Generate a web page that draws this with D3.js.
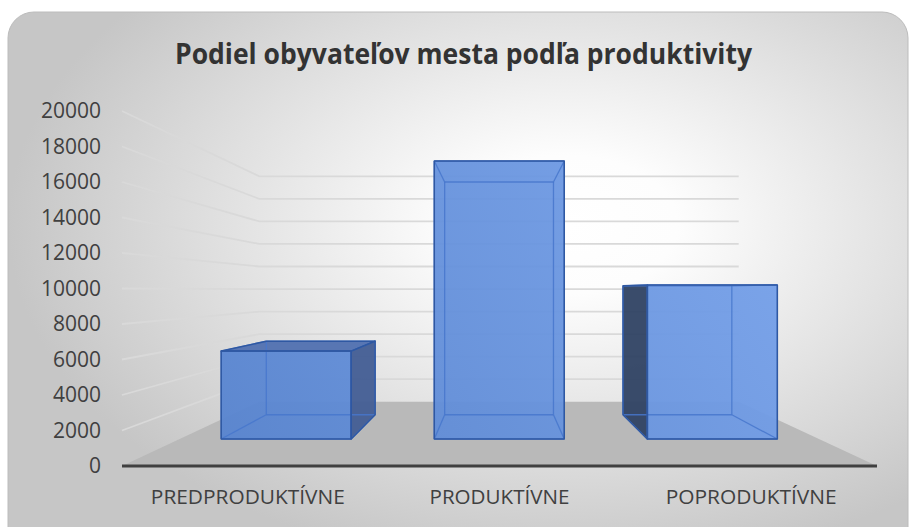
<!DOCTYPE html>
<html><head><meta charset="utf-8">
<script src="https://cdn.jsdelivr.net/npm/d3@7"></script>
<style>html,body{margin:0;padding:0;background:#fff;overflow:hidden}svg{display:block}</style>
</head><body>
<svg id="c" width="909" height="527"></svg>
<script>
const title = "Podiel obyvateľov mesta podľa produktivity";
const categories = ["PREDPRODUKTÍVNE", "PRODUKTÍVNE", "POPRODUKTÍVNE"];
const values = [5850, 18500, 10250];
const yTicks = [0, 2000, 4000, 6000, 8000, 10000, 12000, 14000, 16000, 18000, 20000];

const svg = d3.select("#c");
const defs = svg.append("defs");

const bg = defs.append("radialGradient").attr("id", "bg")
  .attr("cx", 0.62).attr("cy", 0.38).attr("r", 0.62);
bg.append("stop").attr("offset", 0).attr("stop-color", "#ffffff");
bg.append("stop").attr("offset", 0.2).attr("stop-color", "#fdfdfd");
bg.append("stop").attr("offset", 1).attr("stop-color", "#c6c6c6");

const bgr = defs.append("linearGradient").attr("id", "barGrad")
  .attr("gradientUnits", "userSpaceOnUse")
  .attr("x1", 150).attr("y1", 470).attr("x2", 800).attr("y2", 140);
bgr.append("stop").attr("offset", 0).attr("stop-color", "#5380cc");
bgr.append("stop").attr("offset", 1).attr("stop-color", "#78a3ec");

svg.append("rect").attr("x", 8).attr("y", 12).attr("width", 900).attr("height", 560)
  .attr("rx", 26).attr("fill", "url(#bg)").attr("stroke", "#bcbcbc").attr("stroke-width", 1);

// scales
const x = d3.scaleBand().domain(categories).range([122, 877]).paddingInner(0.39).paddingOuter(0.195);
const y = d3.scaleLinear().domain([0, 20000]).range([466, 111]);

// perspective
const VP = {x: 498, y: 290};
const k = 1 / 0.635 - 1;
function proj(px, py, z) {
  const s = 1 / (1 + k * z);
  return [VP.x + s * (px - VP.x), VP.y + s * (py - VP.y)];
}
const [xL, xR] = x.range();
const line = d3.line();

// floor
svg.append("path")
  .attr("d", line([proj(xL, y(0), 0), proj(xL, y(0), 1), proj(xR, y(0), 1), proj(xR, y(0), 0)]) + "Z")
  .attr("fill", "#b9b9b9");

// gridlines
svg.append("g").selectAll("path").data(yTicks.filter(t => t > 0)).join("path")
  .attr("d", t => line([proj(xL, y(t), 0), proj(xL, y(t), 1), proj(xR, y(t), 1)]))
  .attr("fill", "none").attr("stroke", "#d9d9d9").attr("stroke-width", 1.8);

// axis line
svg.append("path").attr("d", line([[xL, y(0)], [xR, y(0)]]))
  .attr("stroke", "#404040").attr("stroke-width", 3);

// y axis labels
const yAxis = svg.append("g").attr("transform", "translate(101,0)")
  .call(d3.axisLeft(y).tickValues(yTicks).tickSize(0).tickPadding(0).tickFormat(d3.format("d")));
yAxis.select(".domain").remove();
yAxis.selectAll("text").attr("font-family", "'Open Sans'").attr("font-size", 21).attr("fill", "#404040");

// bars
const z0 = 0.315, z1 = 0.715;
const bw = x.bandwidth();
values.forEach((v, i) => {
  const c = categories[i];
  const x0 = x(c), x1 = x0 + bw, yb = y(0), yt = y(v);
  const FBL = proj(x0, yb, z0), FBR = proj(x1, yb, z0), FTL = proj(x0, yt, z0), FTR = proj(x1, yt, z0);
  const BBL = proj(x0, yb, z1), BBR = proj(x1, yb, z1), BTL = proj(x0, yt, z1), BTR = proj(x1, yt, z1);
  const g = svg.append("g");
  const faces = [];
  if (VP.x < x0) faces.push({pts: [FTL, BTL, BBL, FBL], fill: "#2f4263"});
  if (VP.x > x1) faces.push({pts: [FTR, BTR, BBR, FBR], fill: "#425d94"});
  if (VP.y < yt) faces.push({pts: [FTL, FTR, BTR, BTL], fill: "#5070b0"});
  faces.push({pts: [FTL, FTR, FBR, FBL], fill: "url(#barGrad)"});
  g.selectAll("path.face").data(faces).join("path").attr("class", "face")
    .attr("d", d => line(d.pts) + "Z").attr("fill", d => d.fill).attr("fill-opacity", 0.95);
  const edges = [[FBL, FBR], [FBR, FTR], [FTR, FTL], [FTL, FBL],
                 [BBL, BBR], [BBR, BTR], [BTR, BTL], [BTL, BBL],
                 [FBL, BBL], [FBR, BBR], [FTR, BTR], [FTL, BTL]];
  g.selectAll("path.hid").data(edges).join("path").attr("class", "hid")
    .attr("d", d => line(d)).attr("stroke", "#4677cc").attr("stroke-opacity", 0.85)
    .attr("stroke-width", 1.3).attr("fill", "none");
  g.selectAll("path.out").data(faces).join("path").attr("class", "out")
    .attr("d", d => line(d.pts) + "Z").attr("fill", "none")
    .attr("stroke", "#2f58a2").attr("stroke-width", 1.5).attr("stroke-linejoin", "round");
});

// category labels
const catWidths = [194, 140, 171];
svg.append("g").selectAll("text").data(categories).join("text")
  .attr("x", d => x(d) + bw / 2).attr("y", 504)
  .attr("text-anchor", "middle").attr("font-family", "'Open Sans'").attr("font-size", 20)
  .attr("fill", "#404040")
  .attr("textLength", (d, i) => catWidths[i]).attr("lengthAdjust", "spacingAndGlyphs")
  .text(d => d);

// title
svg.append("text").attr("x", 463.5).attr("y", 64).attr("text-anchor", "middle")
  .attr("font-family", "'Open Sans'").attr("font-weight", "bold").attr("font-size", 29)
  .attr("fill", "#333333").attr("textLength", 577).attr("lengthAdjust", "spacingAndGlyphs")
  .text(title);
</script>
</body></html>
